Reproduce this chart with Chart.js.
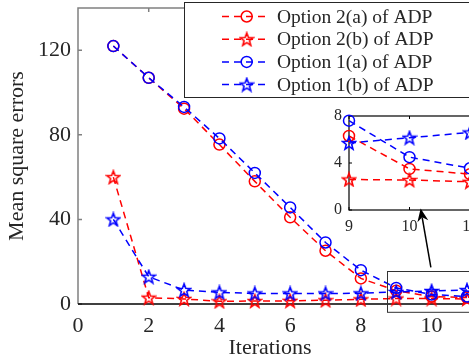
<!DOCTYPE html>
<html>
<head>
<meta charset="utf-8">
<script src="https://cdn.jsdelivr.net/npm/chart.js@4.4.0/dist/chart.umd.min.js"></script>
<style>
  html, body { margin: 0; padding: 0; background: #fff; overflow: hidden; }
  #wrap { position: relative; width: 469px; height: 362px; overflow: hidden; }
  #main { position: absolute; left: 0; top: 0; }
  #inset { position: absolute; left: 300px; top: 100px; }
</style>
</head>
<body>
<div id="wrap">
  <canvas id="main" width="469" height="362"></canvas>
  <canvas id="inset" width="200" height="140"></canvas>
</div>
<script>
// Data
const iterations = [1, 2, 3, 4, 5, 6, 7, 8, 9, 10, 11];
const option2a = [122, 107, 92.4, 75.4, 58, 41, 25.2, 12.1, 6.3, 3.5, 3.05];
const option2b = [60, 3, 2.4, 1.3, 1.4, 1.5, 1.8, 2.2, 2.6, 2.55, 2.4];
const option1a = [122, 107, 93.2, 78.3, 62, 45.7, 29.1, 16, 7.6, 4.5, 3.55];
const option1b = [40, 12.9, 6.6, 5.5, 5.0, 5.0, 5.0, 5.05, 5.7, 6.15, 6.6];
const seriesLabels = ['Option 2(a) of ADP', 'Option 2(b) of ADP', 'Option 1(a) of ADP', 'Option 1(b) of ADP'];

const xTicks = [0, 2, 4, 6, 8, 10];
const yTicks = [0, 40, 80, 120];
const insetXTicks = [9, 10, 11];
const insetYTicks = [0, 4, 8];
const insetFrom = 9;

const RED = '#ff0000';
const BLUE = '#0000ff';
const AXIS_GRAY = '#808080';
const TEXT = '#262626';
const SERIF = "'Liberation Serif', 'Times New Roman', serif";
const LINE_W = 1.5;
const DASH = [7, 5];

// outlined five-point star used as a point marker
function starMarker(color, size) {
  const c = document.createElement('canvas');
  c.width = c.height = size;
  const g = c.getContext('2d');
  const cx = size / 2, cy = size / 2 + 0.6;
  const R = size / 2 - 1.2, r = R * 0.42;
  g.beginPath();
  for (let i = 0; i < 10; i++) {
    const a = -Math.PI / 2 + i * Math.PI / 5;
    const rad = i % 2 ? r : R;
    g.lineTo(cx + rad * Math.cos(a), cy + rad * Math.sin(a));
  }
  g.closePath();
  g.strokeStyle = color;
  g.lineWidth = 1.6;
  g.stroke();
  return c;
}

const redStar = starMarker(RED, 16);
const blueStar = starMarker(BLUE, 16);

const series = [
  { label: seriesLabels[0], values: option2a, color: RED, marker: 'circle', order: 1 },
  { label: seriesLabels[1], values: option2b, color: RED, marker: redStar, order: 1 },
  { label: seriesLabels[2], values: option1a, color: BLUE, marker: 'circle', order: 0 },
  { label: seriesLabels[3], values: option1b, color: BLUE, marker: blueStar, order: 0 },
];

function makeDatasets(minX) {
  return series.map(s => ({
    label: s.label,
    data: iterations.map((x, i) => ({ x: x, y: s.values[i] })).filter(p => p.x >= minX),
    borderColor: s.color,
    borderWidth: LINE_W,
    borderDash: DASH,
    pointStyle: s.marker,
    pointRadius: 5.5,
    pointHoverRadius: 5.5,
    pointBorderWidth: LINE_W,
    pointBorderColor: s.color,
    pointBackgroundColor: 'rgba(0,0,0,0)',
    tension: 0,
    clip: false,
    order: s.order,
  }));
}

function drawMarker(ctx, marker, color, x, y, r) {
  if (marker === 'circle') {
    ctx.save();
    ctx.setLineDash([]);
    ctx.strokeStyle = color;
    ctx.lineWidth = LINE_W;
    ctx.beginPath();
    ctx.arc(x, y, r, 0, Math.PI * 2);
    ctx.stroke();
    ctx.restore();
  } else {
    ctx.drawImage(marker, x - marker.width / 2, y - marker.height / 2);
  }
}

// frame, ticks and zero line of the main axes
const mainFrame = {
  id: 'mainFrame',
  beforeDatasetsDraw(chart) {
    const { ctx, chartArea: a, scales: { x, y } } = chart;
    ctx.save();
    ctx.strokeStyle = AXIS_GRAY;
    ctx.lineWidth = 1.5;
    ctx.beginPath();
    ctx.moveTo(a.left, a.bottom);
    ctx.lineTo(a.left, a.top);
    ctx.lineTo(a.right + 2, a.top);
    xTicks.forEach(v => {
      const px = x.getPixelForValue(v);
      ctx.moveTo(px, a.top);
      ctx.lineTo(px, a.top + 4);
    });
    yTicks.forEach(v => {
      const py = y.getPixelForValue(v);
      ctx.moveTo(a.left, py);
      ctx.lineTo(a.left + 4, py);
    });
    ctx.stroke();
    const y0 = y.getPixelForValue(0);
    ctx.strokeStyle = '#000';
    ctx.lineWidth = 1.3;
    ctx.beginPath();
    ctx.moveTo(a.left, y0);
    ctx.lineTo(a.right + 2, y0);
    ctx.stroke();
    ctx.restore();
  },
  afterDraw(chart) {
    const { ctx, scales: { x, y } } = chart;
    ctx.save();

    // box around the zoomed region
    const bx = x.getPixelForValue(8.74), by0 = y.getPixelForValue(15.7), by1 = y.getPixelForValue(-3.6);
    ctx.strokeStyle = '#333';
    ctx.lineWidth = 1;
    ctx.strokeRect(Math.round(bx) + 0.5, Math.round(by0) + 0.5, 200, by1 - by0);

    // arrow pointing to the inset
    const tx = x.getPixelForValue(9.98), ty = y.getPixelForValue(17.3);
    const hx = x.getPixelForValue(9.69), hy = y.getPixelForValue(45.2);
    const ang = Math.atan2(hy - ty, hx - tx);
    const L = 13, W = 5.5;
    const bxp = hx - L * Math.cos(ang), byp = hy - L * Math.sin(ang);
    ctx.strokeStyle = '#000';
    ctx.fillStyle = '#000';
    ctx.lineWidth = 1.5;
    ctx.beginPath();
    ctx.moveTo(tx, ty);
    ctx.lineTo(bxp + 4 * Math.cos(ang), byp + 4 * Math.sin(ang));
    ctx.stroke();
    ctx.beginPath();
    ctx.moveTo(hx, hy);
    ctx.lineTo(bxp - W * Math.sin(ang), byp + W * Math.cos(ang));
    ctx.lineTo(bxp + 4 * Math.cos(ang), byp + 4 * Math.sin(ang));
    ctx.lineTo(bxp + W * Math.sin(ang), byp - W * Math.cos(ang));
    ctx.closePath();
    ctx.fill();

    // legend
    const left = 184, top = 2.5, rowH = 22.7;
    ctx.fillStyle = '#fff';
    ctx.fillRect(left, top, 300, 95);
    ctx.strokeStyle = '#262626';
    ctx.lineWidth = 1;
    ctx.strokeRect(left + 0.5, top, 300, 95);
    ctx.font = '19.5px ' + SERIF;
    ctx.textBaseline = 'middle';
    ctx.textAlign = 'left';
    series.forEach((s, i) => {
      const cy = 16.5 + i * rowH;
      ctx.strokeStyle = s.color;
      ctx.lineWidth = LINE_W;
      ctx.setLineDash(DASH);
      ctx.beginPath();
      ctx.moveTo(222, cy);
      ctx.lineTo(268, cy);
      ctx.stroke();
      ctx.setLineDash([]);
      drawMarker(ctx, s.marker, s.color, 246.7, cy, 5.5);
      ctx.fillStyle = TEXT;
      ctx.fillText(s.label, 277, cy + 1);
    });
    ctx.restore();
  }
};

new Chart(document.getElementById('main').getContext('2d'), {
  type: 'line',
  data: { datasets: makeDatasets(0) },
  plugins: [mainFrame],
  options: {
    responsive: false,
    animation: false,
    layout: { padding: { top: 8, left: 0, right: 0, bottom: 0 } },
    plugins: { legend: { display: false }, tooltip: { enabled: false } },
    scales: {
      x: {
        type: 'linear',
        min: 0,
        max: 10.86,
        afterBuildTicks: s => { s.ticks = xTicks.map(v => ({ value: v })); },
        afterFit: s => { s.height = 58; s.paddingLeft = 0; s.paddingRight = 0; },
        grid: { display: false, drawTicks: false },
        border: { display: false },
        ticks: { padding: 9, color: TEXT, font: { family: SERIF, size: 22 }, maxRotation: 0, autoSkip: false },
        title: { display: true, text: 'Iterations', color: TEXT, font: { family: SERIF, size: 22 }, padding: { top: 0, bottom: 1 } }
      },
      y: {
        min: 0,
        max: 140,
        afterBuildTicks: s => { s.ticks = yTicks.map(v => ({ value: v })); },
        afterFit: s => { s.width = 78; s.paddingTop = 0; s.paddingBottom = 0; },
        grid: { display: false, drawTicks: false },
        border: { display: false },
        ticks: { padding: 7, color: TEXT, font: { family: SERIF, size: 22 } },
        title: { display: true, text: 'Mean square errors', color: TEXT, font: { family: SERIF, size: 22 }, padding: { top: 4, bottom: 0 } }
      }
    }
  }
});

// black box and ticks of the inset axes
const insetFrame = {
  id: 'insetFrame',
  beforeDatasetsDraw(chart) {
    const { ctx, chartArea: a, scales: { x, y } } = chart;
    ctx.save();
    ctx.strokeStyle = '#000';
    ctx.lineWidth = 1.2;
    ctx.strokeRect(a.left, a.top, a.right - a.left, a.bottom - a.top);
    ctx.lineWidth = 1;
    ctx.beginPath();
    insetXTicks.forEach(v => {
      const px = x.getPixelForValue(v);
      ctx.moveTo(px, a.top);
      ctx.lineTo(px, a.top + 3);
      ctx.moveTo(px, a.bottom);
      ctx.lineTo(px, a.bottom - 3);
    });
    insetYTicks.forEach(v => {
      const py = y.getPixelForValue(v);
      ctx.moveTo(a.left, py);
      ctx.lineTo(a.left + 3, py);
    });
    ctx.stroke();
    ctx.restore();
  }
};

new Chart(document.getElementById('inset').getContext('2d'), {
  type: 'line',
  data: { datasets: makeDatasets(insetFrom) },
  plugins: [insetFrame],
  options: {
    responsive: false,
    animation: false,
    layout: { padding: { top: 16, left: 0, right: 30, bottom: 0 } },
    plugins: { legend: { display: false }, tooltip: { enabled: false } },
    scales: {
      x: {
        type: 'linear',
        min: 9,
        max: 11,
        afterBuildTicks: s => { s.ticks = insetXTicks.map(v => ({ value: v })); },
        afterFit: s => { s.height = 30; s.paddingLeft = 0; s.paddingRight = 0; },
        grid: { display: false, drawTicks: false },
        border: { display: false },
        ticks: { padding: 7, color: TEXT, font: { family: SERIF, size: 16 }, maxRotation: 0, autoSkip: false }
      },
      y: {
        min: 0,
        max: 8,
        afterBuildTicks: s => { s.ticks = insetYTicks.map(v => ({ value: v })); },
        afterFit: s => { s.width = 49; s.paddingTop = 0; s.paddingBottom = 0; },
        grid: { display: false, drawTicks: false },
        border: { display: false },
        ticks: { padding: 7, color: TEXT, font: { family: SERIF, size: 16 } }
      }
    }
  }
});
</script>
</body>
</html>
